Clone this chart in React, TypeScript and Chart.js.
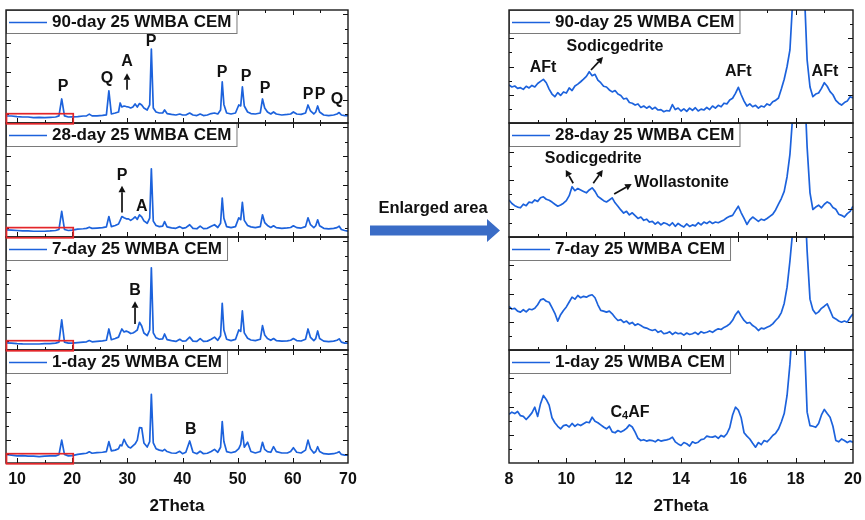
import React, { useEffect, useRef } from "react";
import { Chart, registerables } from "chart.js";
Chart.register(...registerables);

// ---------- DATA ----------
// Left column: full patterns, [2Theta, intensity (a.u.)]
const LEFT_90_DAY: [number, number][] = [
  [8,-0.11],[9,-0.11],[10,-0.15],[11,-0.18],[12,-0.18],[13,-0.22],[14,-0.2],[15,-0.22],[16,-0.2],[17,-0.18],
  [17.6,-0.1],[18.1,1.08],[18.6,-0.1],[19.3,-0.18],[20,-0.17],[21,-0.15],[22,-0.11],[22.6,-0.1],[23.1,0.02],[23.6,-0.1],
  [24.5,-0.1],[25.5,-0.07],[26.2,-0.03],[26.65,1.64],[27.1,0.03],[27.8,0.1],[28.4,0.17],[28.7,0.8],[29.0,0.52],[29.4,0.59],
  [29.8,0.55],[30.2,0.52],[30.6,0.45],[31.0,0.52],[31.4,0.73],[31.8,0.52],[32.2,0.76],[32.6,0.66],[33.0,0.45],[33.6,0.31],
  [34.05,0.66],[34.35,4.57],[34.7,0.45],[35.2,0.17],[35.8,0.1],[36.4,0.1],[36.75,0.31],[37.2,0.06],[38.0,0.0],[38.8,-0.04],
  [39.5,0.03],[40.0,-0.04],[40.6,-0.04],[41.3,0.1],[41.9,-0.04],[42.6,-0.08],[43.2,0.03],[43.8,-0.08],[44.5,-0.04],[45.2,0.06],
  [45.8,0.1],[46.4,0.03],[46.9,0.31],[47.2,2.27],[47.5,0.7],[48.0,0.1],[48.8,0.03],[49.6,0.1],[50.2,0.66],[50.55,0.59],
  [50.85,1.92],[51.2,0.59],[51.8,0.17],[52.4,0.06],[53.2,0.03],[54.1,0.1],[54.5,1.08],[54.9,0.45],[55.4,0.17],[56.0,0.03],
  [56.5,0.17],[57.0,0.03],[58.0,-0.04],[59.0,0.0],[59.6,0.03],[60.1,0.17],[60.7,0.03],[61.5,0.0],[62.3,0.1],[62.75,0.66],
  [63.2,0.24],[63.8,0.03],[64.15,0.17],[64.5,0.59],[64.85,0.17],[65.6,-0.04],[66.5,-0.08],[67.4,-0.04],[68.0,0.03],[68.4,0.13],
  [68.8,-0.04],[69.4,-0.08],[70,-0.08],
];
const LEFT_28_DAY: [number, number][] = [
  [8,-0.1],[9,-0.12],[10,-0.15],[11,-0.18],[12,-0.18],[13,-0.2],[14,-0.2],[15,-0.2],[16,-0.18],[17,-0.15],
  [17.6,-0.08],[18.1,1.17],[18.6,-0.08],[19.3,-0.15],[20,-0.12],[21,-0.05],[22,-0.03],[22.6,0.0],[23.1,0.08],[23.6,0.0],
  [24.5,0.02],[25.5,0.05],[26.2,0.1],[26.65,0.82],[27.1,0.12],[27.8,0.2],[28.4,0.3],[28.7,0.55],[29.0,0.82],[29.4,0.73],
  [29.8,0.66],[30.2,0.66],[30.6,0.55],[31.0,0.66],[31.4,0.8],[31.8,0.62],[32.2,0.94],[32.6,0.8],[33.0,0.52],[33.6,0.35],
  [34.05,0.7],[34.35,4.13],[34.7,0.5],[35.2,0.2],[35.8,0.12],[36.4,0.15],[36.75,0.47],[37.2,0.1],[38.0,0.03],[38.8,0.0],
  [39.5,0.12],[40.0,0.0],[40.6,0.05],[41.3,0.25],[41.9,0.0],[42.6,-0.03],[43.2,0.15],[43.8,-0.02],[44.5,0.0],[45.2,0.15],
  [45.8,0.25],[46.4,0.06],[46.9,0.35],[47.2,2.1],[47.5,0.7],[48.0,0.12],[48.8,0.05],[49.6,0.12],[50.2,0.73],[50.55,0.6],
  [50.85,1.8],[51.2,0.55],[51.8,0.2],[52.4,0.1],[53.2,0.05],[54.1,0.12],[54.5,0.94],[54.9,0.4],[55.4,0.2],[56.0,0.06],
  [56.5,0.18],[57.0,0.05],[58.0,0.0],[59.0,0.03],[59.6,0.06],[60.1,0.18],[60.7,0.05],[61.5,0.02],[62.3,0.12],[62.75,0.73],
  [63.2,0.25],[63.8,0.05],[64.15,0.18],[64.5,0.59],[64.85,0.18],[65.6,0.0],[66.5,-0.04],[67.4,0.0],[68.0,0.05],[68.4,0.15],
  [68.8,-0.08],[69.4,-0.15],[70,-0.2],
];
const LEFT_7_DAY: [number, number][] = [
  [8,-0.1],[9,-0.12],[10,-0.15],[11,-0.17],[12,-0.18],[13,-0.18],[14,-0.18],[15,-0.16],[16,-0.15],[17,-0.12],
  [17.6,-0.05],[18.1,1.5],[18.6,-0.05],[19.3,-0.12],[20,-0.12],[21,-0.08],[22,-0.05],[22.6,-0.03],[23.1,0.06],[23.6,-0.03],
  [24.5,0.0],[25.5,0.04],[26.2,0.08],[26.65,0.87],[27.1,0.12],[27.8,0.2],[28.4,0.3],[28.7,0.6],[29.0,0.87],[29.4,0.66],
  [29.8,0.72],[30.2,0.66],[30.6,0.55],[31.0,0.59],[31.4,0.68],[31.8,0.8],[32.2,1.34],[32.6,1.08],[33.0,0.59],[33.6,0.4],
  [34.05,0.8],[34.35,5.15],[34.7,0.6],[35.2,0.25],[35.8,0.15],[36.4,0.18],[36.75,0.52],[37.2,0.12],[38.0,0.05],[38.8,0.0],
  [39.5,0.15],[40.0,0.02],[40.6,0.04],[41.3,0.3],[41.9,0.02],[42.6,0.0],[43.2,0.2],[43.8,0.0],[44.5,0.02],[45.2,0.15],
  [45.8,0.3],[46.4,0.08],[46.9,0.4],[47.2,2.66],[47.5,0.8],[48.0,0.15],[48.8,0.06],[49.6,0.14],[50.2,0.8],[50.55,0.7],
  [50.85,2.13],[51.2,0.6],[51.8,0.22],[52.4,0.1],[53.2,0.06],[54.1,0.15],[54.5,1.1],[54.9,0.45],[55.4,0.2],[56.0,0.08],
  [56.5,0.2],[57.0,0.06],[58.0,0.02],[59.0,0.04],[59.6,0.08],[60.1,0.2],[60.7,0.06],[61.5,0.03],[62.3,0.15],[62.75,0.87],
  [63.2,0.28],[63.8,0.06],[64.15,0.2],[64.5,0.73],[64.85,0.2],[65.6,0.02],[66.5,-0.02],[67.4,0.02],[68.0,0.08],[68.4,0.18],
  [68.8,-0.05],[69.4,-0.12],[70,-0.12],
];
const LEFT_1_DAY: [number, number][] = [
  [8,0.0],[9,-0.05],[10,-0.1],[11,-0.08],[12,-0.12],[13,-0.12],[14,-0.15],[15,-0.12],[16,-0.1],[17,-0.1],
  [17.6,-0.02],[18.1,1.0],[18.6,0.0],[19.3,-0.1],[20,-0.08],[21,0.0],[22,0.05],[22.6,0.08],[23.1,0.18],[23.6,0.08],
  [24.5,0.12],[25.5,0.15],[26.2,0.2],[26.65,0.89],[27.1,0.25],[27.8,0.3],[28.4,0.4],[28.7,0.66],[29.0,0.6],[29.4,1.06],
  [29.8,0.73],[30.2,0.52],[30.6,0.45],[31.0,0.59],[31.4,0.73],[31.8,1.0],[32.2,1.87],[32.6,1.85],[33.0,0.8],[33.6,0.52],
  [34.05,0.9],[34.35,4.2],[34.7,0.8],[35.2,0.4],[35.8,0.3],[36.4,0.25],[36.75,0.35],[37.2,0.2],[38.0,0.1],[38.8,0.08],
  [39.5,0.22],[40.0,0.05],[40.6,0.15],[41.3,0.94],[41.9,0.15],[42.6,0.05],[43.2,0.22],[43.8,0.05],[44.5,0.08],[45.2,0.2],
  [45.8,0.35],[46.4,0.15],[46.9,0.5],[47.2,2.29],[47.5,0.9],[48.0,0.2],[48.8,0.12],[49.6,0.2],[50.2,0.4],[50.55,0.7],
  [50.85,1.59],[51.2,0.5],[51.8,0.85],[52.4,0.2],[53.2,0.1],[54.1,0.2],[54.5,0.85],[54.9,0.35],[55.4,0.2],[56.0,0.15],
  [56.5,0.54],[57.0,0.2],[58.0,0.1],[59.0,0.1],[59.6,0.2],[60.1,0.47],[60.7,0.15],[61.5,0.1],[62.3,0.3],[62.75,1.0],
  [63.2,0.4],[63.8,0.1],[64.15,0.2],[64.5,0.54],[64.85,0.2],[65.6,0.05],[66.5,0.02],[67.4,0.05],[68.0,0.12],[68.4,0.19],
  [68.8,0.0],[69.4,-0.05],[70,-0.05],
];

// Right column: enlarged 8–20° region
const RIGHT_TWO_THETA = [
  8.0, 8.1, 8.2, 8.3, 8.4, 8.5, 8.6, 8.7, 8.8, 8.9,
  9.0, 9.1, 9.2, 9.3, 9.4, 9.5, 9.6, 9.7, 9.8, 9.9,
  10.0, 10.1, 10.2, 10.3, 10.4, 10.5, 10.6, 10.7, 10.8, 10.9,
  11.0, 11.1, 11.2, 11.3, 11.4, 11.5, 11.6, 11.7, 11.8, 11.9,
  12.0, 12.1, 12.2, 12.3, 12.4, 12.5, 12.6, 12.7, 12.8, 12.9,
  13.0, 13.1, 13.2, 13.3, 13.4, 13.5, 13.6, 13.7, 13.8, 13.9,
  14.0, 14.1, 14.2, 14.3, 14.4, 14.5, 14.6, 14.7, 14.8, 14.9,
  15.0, 15.1, 15.2, 15.3, 15.4, 15.5, 15.6, 15.7, 15.8, 15.9,
  16.0, 16.1, 16.2, 16.3, 16.4, 16.5, 16.6, 16.7, 16.8, 16.9,
  17.0, 17.1, 17.2, 17.3, 17.4, 17.5, 17.6, 17.7, 17.8, 17.9,
  18.0, 18.1, 18.2, 18.3, 18.4, 18.5, 18.6, 18.7, 18.8, 18.9,
  19.0, 19.1, 19.2, 19.3, 19.4, 19.5, 19.6, 19.7, 19.8, 19.9,
  20.0,
];
const RIGHT_90_DAY = [
  2.69, 2.55, 2.62, 2.45, 2.50, 2.38, 2.60, 2.48, 2.66, 2.55,
  2.80, 2.95, 3.09, 2.85, 2.40, 2.05, 1.86, 2.15, 1.95, 2.20,
  2.12, 2.48, 2.30, 2.62, 2.75, 2.92, 3.10, 3.30, 3.63, 3.35,
  3.45, 3.04, 2.85, 2.60, 2.55, 2.34, 2.20, 2.30, 2.05, 1.95,
  1.70, 1.75, 1.45, 1.40, 1.27, 1.35, 1.10, 1.20, 1.05, 1.18,
  0.98, 1.11, 0.92, 0.95, 0.80, 0.88, 0.85, 1.30, 0.95, 1.06,
  0.85, 1.00, 0.82, 1.05, 0.90, 1.08, 0.85, 0.98, 0.92, 1.10,
  0.95, 1.20, 1.05, 1.25, 1.15, 1.40, 1.35, 1.63, 1.75, 2.10,
  2.53, 2.00, 1.55, 1.20, 1.35, 1.15, 1.25, 1.05, 1.20, 1.13,
  1.35, 1.25, 1.51, 1.60, 1.77, 2.40, 3.10, 4.00, 5.17, 8.80,
  14.0, 18.0, 15.0, 9.50, 4.46, 2.55, 1.86, 2.05, 2.12, 2.45,
  2.85, 2.60, 2.22, 2.00, 1.60, 1.40, 1.27, 1.45, 1.55, 1.86,
  1.77,
];
const RIGHT_28_DAY = [
  2.60, 2.35, 2.20, 2.10, 2.05, 2.30, 2.20, 2.45, 2.40, 2.60,
  2.50, 2.75, 2.82, 2.65, 2.58, 2.45, 2.30, 2.16, 2.25, 2.37,
  2.55, 2.90, 3.53, 3.25, 3.40, 3.30, 3.20, 3.10, 3.30, 3.45,
  3.20, 2.85, 2.70, 2.55, 2.46, 2.60, 2.75, 2.40, 2.16, 1.90,
  1.68, 1.80, 1.55, 1.70, 1.50, 1.30, 1.40, 1.17, 1.25, 1.05,
  1.10, 0.90, 1.05, 0.85, 1.00, 0.93, 0.80, 1.00, 0.75, 0.95,
  0.81, 0.70, 0.92, 0.74, 0.85, 0.78, 1.00, 0.85, 1.05, 0.95,
  1.10, 0.95, 1.05, 1.00, 1.10, 1.20, 1.35, 1.45, 1.52, 1.85,
  2.16, 1.70, 1.30, 0.88, 1.20, 1.40, 1.25, 1.10, 1.25, 1.17,
  1.30, 1.45, 1.60, 1.90, 2.30, 2.70, 3.20, 4.23, 5.80, 8.60,
  14.0, 18.0, 16.0, 11.0, 6.30, 3.10, 1.93, 2.10, 2.23, 2.05,
  2.30, 2.46, 2.35, 2.07, 1.95, 1.60, 1.52, 1.40, 1.64, 1.80,
  2.16,
];
const RIGHT_7_DAY = [
  3.08, 2.90, 2.95, 2.75, 2.68, 2.85, 2.70, 2.90, 2.85, 2.95,
  3.20, 3.55, 3.62, 3.45, 3.38, 3.00, 2.60, 2.04, 2.50, 2.80,
  3.05, 3.40, 3.74, 3.60, 3.86, 3.70, 3.80, 3.74, 3.85, 3.91,
  3.70, 3.20, 2.80, 2.75, 2.68, 2.75, 2.56, 2.30, 2.09, 2.15,
  1.95, 2.05, 1.85, 1.95, 1.75, 1.85, 1.73, 1.60, 1.55, 1.45,
  1.38, 1.45, 1.25, 1.35, 1.15, 1.19, 1.30, 1.10, 1.25, 1.15,
  1.19, 1.05, 1.20, 1.10, 1.15, 1.25, 1.10, 1.30, 1.20, 1.26,
  1.35, 1.25, 1.40, 1.50, 1.45, 1.60, 1.70, 1.85, 2.10, 2.50,
  2.75, 2.40, 2.09, 1.90, 1.95, 1.73, 1.60, 1.38, 1.55, 1.50,
  1.61, 1.70, 1.85, 2.09, 2.30, 2.65, 3.30, 4.45, 6.30, 8.50,
  14.0, 18.0, 16.0, 11.5, 7.00, 3.60, 2.85, 2.56, 2.70, 2.95,
  3.10, 3.27, 2.80, 2.32, 2.20, 2.05, 1.97, 2.05, 1.97, 2.30,
  2.56,
];
const RIGHT_1_DAY = [
  3.45, 3.60, 3.50, 3.65, 3.35, 3.30, 3.08, 3.30, 3.55, 3.95,
  3.30, 4.20, 4.78, 4.50, 4.10, 3.20, 2.85, 2.60, 2.42, 2.65,
  2.70, 2.55, 2.80, 2.60, 2.75, 2.65, 2.78, 2.90, 2.85, 3.24,
  2.95, 2.85, 2.70, 2.55, 2.42, 2.60, 2.20, 2.14, 2.30, 2.20,
  2.30, 2.45, 2.70, 2.55, 2.18, 1.75, 1.59, 1.65, 1.55, 1.62,
  1.59, 1.50, 1.65, 1.55, 1.60, 1.64, 1.70, 1.83, 1.50, 1.35,
  1.24, 1.45, 1.36, 1.20, 1.50, 1.40, 1.47, 1.65, 1.70, 1.90,
  1.85, 1.83, 1.90, 1.75, 1.95, 1.85, 2.07, 2.50, 3.40, 3.95,
  3.75, 3.20, 2.14, 1.90, 1.70, 1.40, 1.12, 1.45, 1.30, 1.59,
  1.50, 1.70, 1.95, 2.10, 2.40, 2.90, 3.50, 4.78, 7.00, 10.0,
  15.0, 18.0, 15.0, 9.00, 3.60, 2.65, 2.60, 2.53, 2.80, 3.40,
  3.79, 3.50, 3.24, 2.60, 1.60, 1.50, 1.70, 1.59, 1.45, 1.55,
  1.47,
];

const SERIES_LABELS = ["90-day 25 WMBA CEM", "28-day 25 WMBA CEM", "7-day 25 WMBA CEM", "1-day 25 WMBA CEM"];
const LEFT_X_TICK_LABELS = [10, 20, 30, 40, 50, 60, 70];
const RIGHT_X_TICK_LABELS = [8, 10, 12, 14, 16, 18, 20];
const X_TITLE = "2Theta";

// Annotations (data coordinates)
type Label = { text: string; x: number; y: number };
type Arrow = { x1: number; y1: number; x2: number; y2: number };
const LABELS_LEFT: Label[][] = [
  [
    { text: "P", x: 18.33, y: 1.92 }, { text: "Q", x: 26.3, y: 2.48 }, { text: "A", x: 29.94, y: 3.66 },
    { text: "P", x: 34.29, y: 5.06 }, { text: "P", x: 47.16, y: 2.9 }, { text: "P", x: 51.51, y: 2.62 },
    { text: "P", x: 54.95, y: 1.78 }, { text: "P", x: 62.75, y: 1.36 }, { text: "P", x: 64.92, y: 1.36 },
    { text: "Q", x: 68.0, y: 1.01 },
  ],
  [{ text: "P", x: 29.03, y: 3.66 }, { text: "A", x: 32.6, y: 1.5 }],
  [{ text: "B", x: 31.39, y: 3.52 }],
  [{ text: "B", x: 41.48, y: 1.71 }],
];
const ARROWS_LEFT: Arrow[][] = [
  [{ x1: 29.94, y1: 1.72, x2: 29.94, y2: 2.88 }],
  [{ x1: 29.03, y1: 1.1, x2: 29.03, y2: 2.95 }],
  [{ x1: 31.39, y1: 1.22, x2: 31.39, y2: 2.8 }],
  [],
];
const LABELS_RIGHT: Label[][] = [
  [
    { text: "AFt", x: 9.19, y: 3.89 }, { text: "Sodicgedrite", x: 11.7, y: 5.4 },
    { text: "AFt", x: 16.0, y: 3.63 }, { text: "AFt", x: 19.02, y: 3.63 },
  ],
  [{ text: "Sodicgedrite", x: 10.94, y: 5.47 }, { text: "Wollastonite", x: 14.02, y: 3.81 }],
  [],
  [{ text: "C4AF", x: 12.22, y: 3.6 }],
];
const ARROWS_RIGHT: Arrow[][] = [
  [{ x1: 10.86, y1: 3.75, x2: 11.28, y2: 4.67 }],
  [
    { x1: 10.24, y1: 3.77, x2: 9.98, y2: 4.71 },
    { x1: 10.94, y1: 3.77, x2: 11.27, y2: 4.71 },
    { x1: 11.67, y1: 3.01, x2: 12.28, y2: 3.72 },
  ],
  [],
  [],
];

// ---------- STYLE / LAYOUT ----------
const BLUE = "#1c62dc";
const RED = "#e3262a";
const FONT = '"Liberation Sans", Arial, Helvetica, sans-serif';
const ROW_TOPS = [10, 123, 237, 350];
const ROW_BOTTOMS = [123, 237, 350, 463];
const M = 12;

interface PanelSpec {
  col: number;
  row: number;
  frameLeft: number;
  frameRight: number;
  points: { x: number; y: number }[];
  xMin: number; xMax: number; yMin: number; yMax: number;
  xTicks: number[]; xMajor: (v: number) => boolean;
  yTicks: number[]; yLong: (v: number) => boolean;
  label: string;
  redRect: boolean;
  labels: Label[];
  arrows: Arrow[];
  tickLabels: number[] | null;
}

const range = (a: number, b: number, s: number) => {
  const r: number[] = [];
  for (let v = a; v <= b + 1e-9; v += s) r.push(Math.round(v * 100) / 100);
  return r;
};

const LEFT_DATA = [LEFT_90_DAY, LEFT_28_DAY, LEFT_7_DAY, LEFT_1_DAY];
const RIGHT_DATA = [RIGHT_90_DAY, RIGHT_28_DAY, RIGHT_7_DAY, RIGHT_1_DAY];

const PANELS: PanelSpec[] = [];
for (let r = 0; r < 4; r++) {
  PANELS.push({
    col: 0, row: r, frameLeft: 6, frameRight: 348,
    points: LEFT_DATA[r].map(([x, y]) => ({ x, y })),
    xMin: 8, xMax: 70, yMin: -0.6, yMax: 7.3,
    xTicks: range(10, 65, 5), xMajor: (v) => v % 10 === 0,
    yTicks: range(0, 7, 1), yLong: (v) => v % 2 === 1,
    label: SERIES_LABELS[r], redRect: true,
    labels: LABELS_LEFT[r], arrows: ARROWS_LEFT[r],
    tickLabels: r === 3 ? LEFT_X_TICK_LABELS : null,
  });
}
for (let r = 0; r < 4; r++) {
  PANELS.push({
    col: 1, row: r, frameLeft: 509, frameRight: 853,
    points: RIGHT_TWO_THETA.map((x, i) => ({ x, y: RIGHT_DATA[r][i] })),
    xMin: 8, xMax: 20, yMin: 0, yMax: 8,
    xTicks: range(9, 19, 1), xMajor: (v) => v % 2 === 0,
    yTicks: range(1, 7, 1), yLong: (v) => v % 2 === 0,
    label: SERIES_LABELS[r], redRect: false,
    labels: LABELS_RIGHT[r], arrows: ARROWS_RIGHT[r],
    tickLabels: r === 3 ? RIGHT_X_TICK_LABELS : null,
  });
}

function makePlugin(spec: PanelSpec) {
  return {
    id: "xrdFrame",
    afterDraw(chart: any) {
      const { ctx, chartArea: a, scales } = chart;
      const xs = scales.x, ys = scales.y;
      const px = (v: number) => xs.getPixelForValue(v);
      const py = (v: number) => ys.getPixelForValue(v);
      const seg = (x1: number, y1: number, x2: number, y2: number) => {
        ctx.beginPath(); ctx.moveTo(x1, y1); ctx.lineTo(x2, y2); ctx.stroke();
      };
      ctx.save();
      // ticks (inward, all four sides)
      ctx.strokeStyle = "#111";
      ctx.lineWidth = 1;
      for (const v of spec.xTicks) {
        const x = Math.round(px(v)) + 0.5;
        const len = spec.xMajor(v) ? 5 : 3;
        seg(x, a.bottom, x, a.bottom - len);
        seg(x, a.top, x, a.top + len);
      }
      for (const v of spec.yTicks) {
        const y = Math.round(py(v)) + 0.5;
        const len = spec.yLong(v) ? 5 : 3;
        seg(a.left, y, a.left + len, y);
        seg(a.right, y, a.right - len, y);
      }
      // legend box
      ctx.font = `bold 17px ${FONT}`;
      const tw = ctx.measureText(spec.label).width;
      const bx = a.left, by = a.top, bw = 46 + tw + 5, bh = 23;
      ctx.fillStyle = "#fff";
      ctx.fillRect(bx, by, bw, bh);
      ctx.strokeStyle = "#7a7a7a";
      ctx.lineWidth = 1;
      ctx.strokeRect(bx + 0.5, by + 0.5, bw, bh);
      ctx.strokeStyle = BLUE;
      ctx.lineWidth = 1.7;
      seg(bx + 3, by + 12.5, bx + 41, by + 12.5);
      ctx.fillStyle = "#111";
      ctx.textAlign = "left";
      ctx.textBaseline = "middle";
      ctx.fillText(spec.label, bx + 46, by + 12.5);
      // frame
      ctx.strokeStyle = "#1a1a1a";
      ctx.lineWidth = 1.4;
      ctx.strokeRect(a.left, a.top, a.right - a.left, a.bottom - a.top);
      // red rectangle (region enlarged on the right)
      if (spec.redRect) {
        const x1 = px(8), x2 = px(20.1), yt = py(0.05);
        ctx.strokeStyle = RED;
        ctx.lineWidth = 1.7;
        ctx.strokeRect(x1 + 0.5, yt, x2 - x1, a.bottom + 0.8 - yt);
      }
      // arrows
      ctx.strokeStyle = "#111";
      ctx.fillStyle = "#111";
      for (const ar of spec.arrows) {
        const x1 = px(ar.x1), y1 = py(ar.y1), x2 = px(ar.x2), y2 = py(ar.y2);
        const ang = Math.atan2(y2 - y1, x2 - x1);
        const hl = 6.5, hw = 3.5;
        const bxh = x2 - hl * Math.cos(ang), byh = y2 - hl * Math.sin(ang);
        ctx.lineWidth = 1.7;
        seg(x1, y1, bxh, byh);
        ctx.beginPath();
        ctx.moveTo(x2, y2);
        ctx.lineTo(bxh + hw * Math.sin(ang), byh - hw * Math.cos(ang));
        ctx.lineTo(bxh - hw * Math.sin(ang), byh + hw * Math.cos(ang));
        ctx.closePath();
        ctx.fill();
      }
      // text labels
      ctx.textBaseline = "middle";
      for (const lb of spec.labels) {
        const x = px(lb.x), y = py(lb.y);
        if (lb.text === "C4AF") {
          const big = `bold 16px ${FONT}`, small = `bold 11px ${FONT}`;
          ctx.font = big; const wC = ctx.measureText("C").width; const wAF = ctx.measureText("AF").width;
          ctx.font = small; const w4 = ctx.measureText("4").width;
          let sx = x - (wC + w4 + wAF) / 2;
          ctx.textAlign = "left";
          ctx.font = big; ctx.fillText("C", sx, y); sx += wC;
          ctx.font = small; ctx.fillText("4", sx, y + 4); sx += w4;
          ctx.font = big; ctx.fillText("AF", sx, y);
        } else {
          ctx.font = `bold 16px ${FONT}`;
          ctx.textAlign = "center";
          ctx.fillText(lb.text, x, y);
        }
      }
      // bottom tick labels and axis title
      if (spec.tickLabels) {
        ctx.fillStyle = "#111";
        ctx.font = `bold 16px ${FONT}`;
        ctx.textAlign = "center";
        ctx.textBaseline = "middle";
        for (const v of spec.tickLabels) ctx.fillText(String(v), px(v), a.bottom + 17);
        ctx.font = `bold 17px ${FONT}`;
        ctx.fillText(X_TITLE, (a.left + a.right) / 2, a.bottom + 43);
      }
      ctx.restore();
    },
  };
}

function geom(p: PanelSpec) {
  const top = ROW_TOPS[p.row], bottom = ROW_BOTTOMS[p.row];
  const left = p.frameLeft - M;
  const width = p.frameRight - p.frameLeft + 2 * M;
  const ctop = top - M;
  const height = p.tickLabels ? 520 - ctop : bottom - top + 2 * M;
  const padBottom = p.tickLabels ? 520 - bottom : M;
  return { left, top: ctop, width, height, padBottom };
}

export default function App() {
  const refs = useRef<(HTMLCanvasElement | null)[]>([]);
  useEffect(() => {
    const charts = PANELS.map((p, i) => {
      const c = refs.current[i] as HTMLCanvasElement;
      const g = geom(p);
      return new Chart(c, {
        type: "line",
        data: {
          datasets: [
            {
              data: p.points,
              borderColor: BLUE,
              borderWidth: 1.7,
              pointRadius: 0,
              fill: false,
              tension: 0,
              borderJoinStyle: "round",
              clip: 0,
            } as any,
          ],
        },
        options: {
          animation: false,
          responsive: false,
          devicePixelRatio: 1,
          events: [],
          parsing: false as any,
          layout: { padding: { left: M, right: M, top: M, bottom: g.padBottom } },
          scales: {
            x: { type: "linear", display: false, min: p.xMin, max: p.xMax },
            y: { type: "linear", display: false, min: p.yMin, max: p.yMax },
          },
          plugins: { legend: { display: false }, tooltip: { enabled: false }, title: { display: false } },
        },
        plugins: [makePlugin(p) as any],
      });
    });
    return () => charts.forEach((c) => c.destroy());
  }, []);

  return (
    <div style={{ position: "absolute", left: 0, top: 0, width: 865, height: 520, background: "#fff", overflow: "hidden" }}>
      {PANELS.map((p, i) => {
        const g = geom(p);
        return (
          <canvas
            key={i}
            ref={(el) => { refs.current[i] = el; }}
            width={g.width}
            height={g.height}
            style={{ position: "absolute", left: g.left, top: g.top, width: g.width, height: g.height, zIndex: 10 - p.row }}
          />
        );
      })}
      <div
        style={{
          position: "absolute", left: 360, top: 198, width: 146, textAlign: "center",
          font: `bold 16.5px ${FONT}`, color: "#111", lineHeight: "18px", zIndex: 20,
        }}
      >
        Enlarged area
      </div>
      <svg width={150} height={40} style={{ position: "absolute", left: 360, top: 212, zIndex: 20 }}>
        <polygon points="10,13.5 127,13.5 127,7 140,18.5 127,30 127,23.5 10,23.5" fill="#3a6cc6" />
      </svg>
    </div>
  );
}
